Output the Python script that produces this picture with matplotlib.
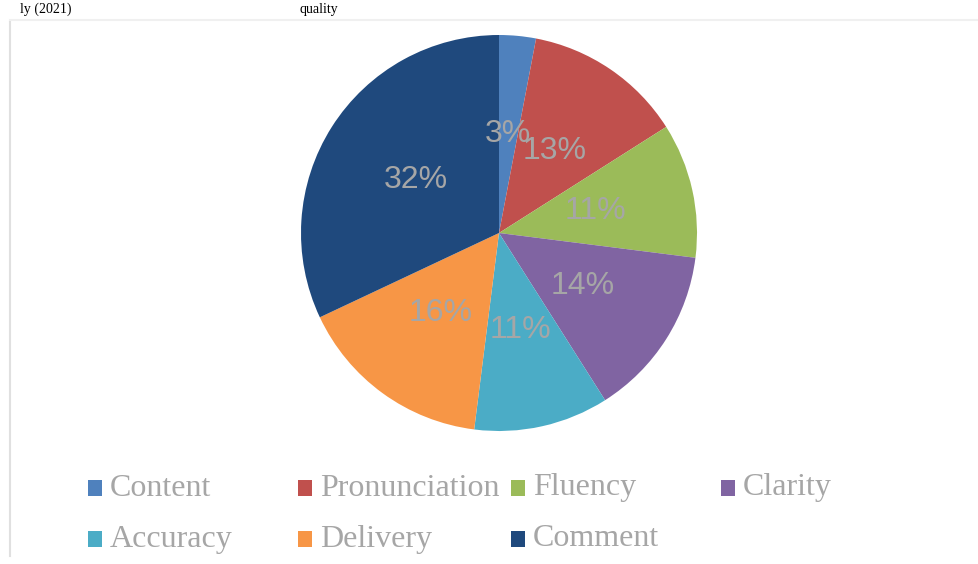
import matplotlib
matplotlib.use("Agg")
import matplotlib.pyplot as plt
from matplotlib.patches import Rectangle
from matplotlib.lines import Line2D

categories = ["Content", "Pronunciation", "Fluency", "Clarity", "Accuracy", "Delivery", "Comment"]
values = [3, 13, 11, 14, 11, 16, 32]
colors = ["#4F81BD", "#C0504D", "#9BBB59", "#8064A2", "#4BACC6", "#F79646", "#1F497D"]

W, H = 979, 564
fig = plt.figure(figsize=(W / 100, H / 100), dpi=100)
fig.patch.set_facecolor("white")

# pie axes: center (499,233), radius 198 px
cx, cy, r = 499, 233, 198
ax = fig.add_axes([(cx - r) / W, (H - cy - r) / H, 2 * r / W, 2 * r / H])
wedges, texts, autotexts = ax.pie(
    values, colors=colors, startangle=90, counterclock=False,
    autopct=lambda p: f"{p:.0f}%", pctdistance=0.5, radius=1,
    wedgeprops=dict(linewidth=0),
    textprops=dict(color="#A6A6A6", fontsize=23, family=["Liberation Sans", "DejaVu Sans"]),
)
ax.set_xlim(-1, 1)
ax.set_ylim(-1, 1)
ax.set_aspect("equal")
ax.axis("off")

# chart frame lines
fig.add_artist(Line2D([10 / W, 10 / W], [1 - 22 / H, 1 - 556 / H], color="#E0E0E0", lw=1.5))
fig.add_artist(Line2D([10 / W, 1], [1 - 20 / H, 1 - 20 / H], color="#F0F0F0", lw=1.5))

# caption fragment at top (kept small and fully visible)
fig.text(20 / W, 1 - 13 / H, "ly (2021)", fontsize=10, family="Liberation Serif",
         color="black", va="baseline", ha="left")
fig.text(300 / W, 1 - 13 / H, "quality", fontsize=10, family="Liberation Serif",
         color="black", va="baseline", ha="left")

# manual legend
leg_pos = [(88, 488), (298, 488), (511, 488), (721, 488),
           (88, 539), (298, 539), (511, 539)]
for (lx, ly), name, col in zip(leg_pos, categories, colors):
    fig.add_artist(Rectangle((lx / W, 1 - (ly + 8) / H), 14 / W, 16 / H,
                             transform=fig.transFigure, facecolor=col, edgecolor="none"))
    fig.text((lx + 22) / W, 1 - ly / H, name, fontsize=23, family="Liberation Serif",
             color="#A6A6A6", va="center", ha="left")

fig.savefig("out.png", dpi=100)
